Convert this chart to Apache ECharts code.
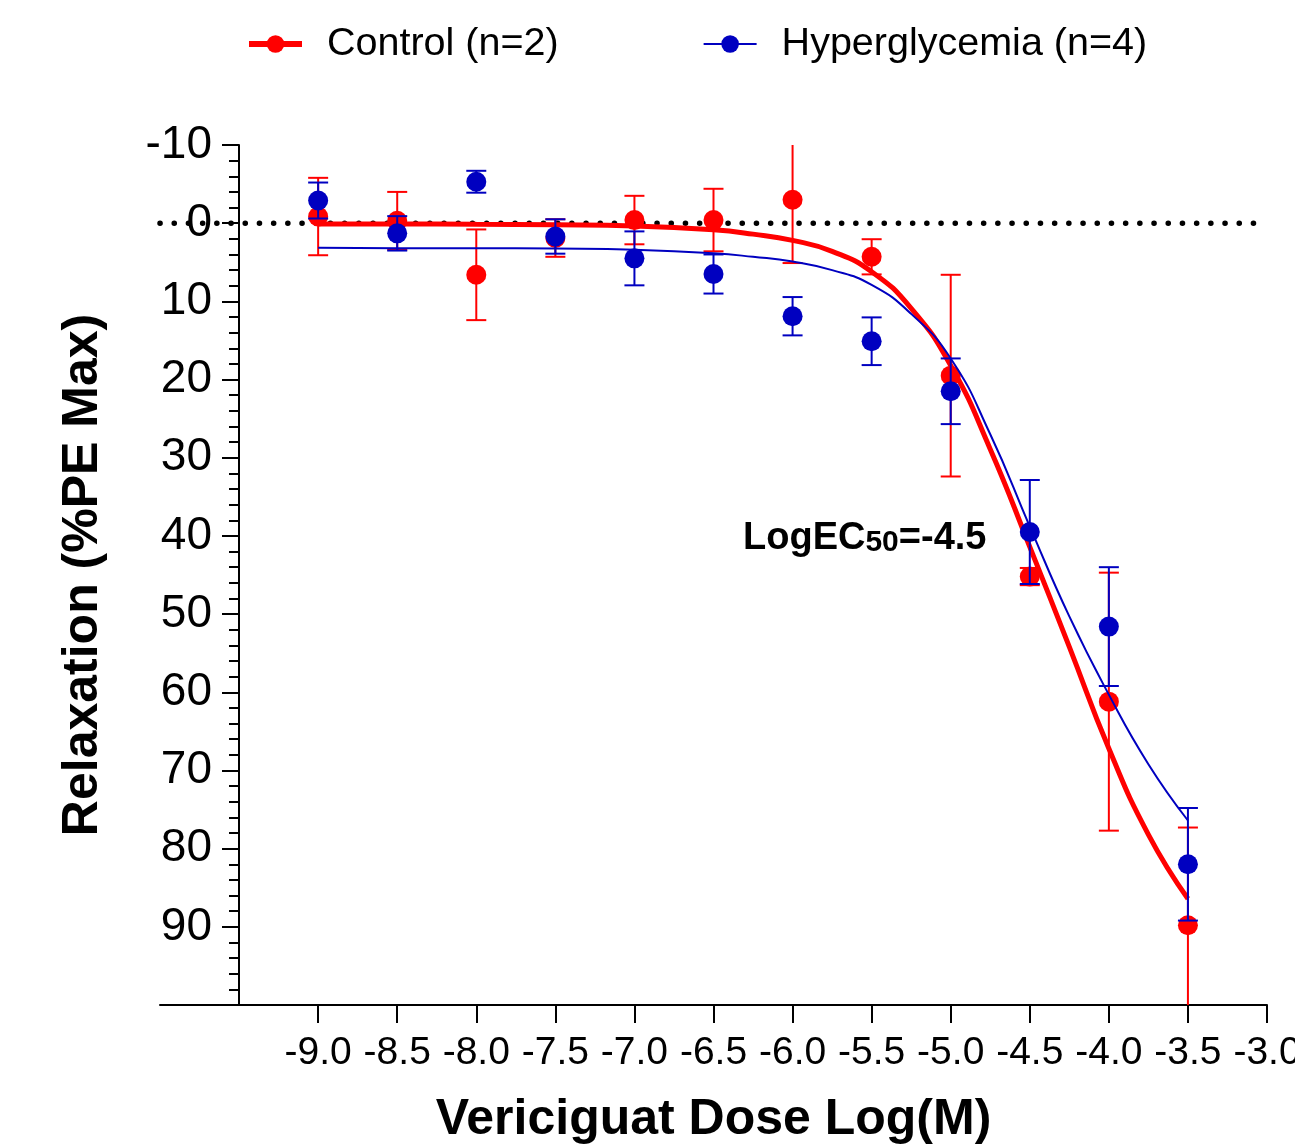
<!DOCTYPE html>
<html>
<head>
<meta charset="utf-8">
<script src="https://cdn.jsdelivr.net/npm/echarts@6/dist/echarts.min.js"></script>
<style>html,body{margin:0;padding:0;background:#fff;}#chart{width:1295px;height:1146px;}</style>
</head>
<body>
<div id="chart"></div>
<script>
// ---- Data ----
const xDose = [-9.0, -8.5, -8.0, -7.5, -7.0, -6.5, -6.0, -5.5, -5.0, -4.5, -4.0, -3.5];
const controlMean = [-0.85, -0.3, 6.6, 1.9, -0.4, -0.4, -3.0, 4.3, 19.5, 45.2, 61.2, 89.8];
const controlSem  = [4.95, 3.7, 5.8, 2.4, 3.1, 4.0, 8.1, 2.25, 12.9, 1.1, 16.5, 12.5];
const hyperMean = [-2.9, 1.3, -5.3, 1.7, 4.5, 6.5, 11.9, 15.1, 21.5, 39.5, 51.6, 82.0];
const hyperSem  = [2.3, 2.2, 1.4, 2.2, 3.45, 2.5, 2.45, 3.05, 4.2, 6.65, 7.6, 7.2];

// fitted curves
const curveX     = [-9.0, -8.5, -8.0, -7.5, -7.0, -6.5, -6.25, -6.0, -5.75, -5.5, -5.25, -5.0, -4.75, -4.5, -4.25, -4.0, -3.75, -3.5];
const controlFit = [0.1, 0.1, 0.15, 0.2, 0.35, 0.85, 1.4, 2.2, 3.6, 6.2, 10.9, 18.2, 28.9, 41.4, 54.2, 67.2, 78.2, 86.4];
const hyperFit   = [3.15, 3.2, 3.2, 3.25, 3.4, 3.85, 4.3, 4.9, 6.0, 7.9, 11.6, 17.3, 27.0, 38.8, 50.3, 60.3, 69.2, 76.4];

const xTickValues = [-9.0, -8.5, -8.0, -7.5, -7.0, -6.5, -6.0, -5.5, -5.0, -4.5, -4.0, -3.5, -3.0];
const yLabelValues = [-10, 0, 10, 20, 30, 40, 50, 60, 70, 80, 90];
const zeroRef = 0;

const names = ['Control (n=2)', 'Hyperglycemia (n=4)'];
const RED = '#FF0000', BLUE = '#0000C0';
const FONT = "'Liberation Sans', Arial, sans-serif";

const X_MIN = -10, X_MAX = -3, Y_MIN = -10, Y_MAX = 100;

function errData(means, sems) {
  return xDose.map((x, i) => [x, means[i] - sems[i], means[i] + sems[i]]);
}
function errRenderer(color) {
  return function (params, api) {
    const x = api.value(0);
    const lo = api.value(1), hi = api.value(2);
    const loC = Math.max(Y_MIN, lo), hiC = Math.min(Y_MAX, hi);
    const p1 = api.coord([x, loC]), p2 = api.coord([x, hiC]);
    const half = 10;
    const st = { stroke: color, lineWidth: 2 };
    const children = [{ type: 'line', shape: { x1: p1[0], y1: p1[1], x2: p2[0], y2: p2[1] }, style: st }];
    if (lo >= Y_MIN) children.push({ type: 'line', shape: { x1: p1[0] - half, y1: p1[1], x2: p1[0] + half, y2: p1[1] }, style: st });
    if (hi <= Y_MAX) children.push({ type: 'line', shape: { x1: p2[0] - half, y1: p2[1], x2: p2[0] + half, y2: p2[1] }, style: st });
    return { type: 'group', children: children };
  };
}

const chart = echarts.init(document.getElementById('chart'), null, { renderer: 'canvas' });
chart.setOption({
  animation: false,
  backgroundColor: '#fff',
  textStyle: { fontFamily: FONT },
  legend: {
    data: [
      { name: names[0], lineStyle: { width: 6, color: RED }, itemStyle: { color: RED } },
      { name: names[1], lineStyle: { width: 2, color: BLUE }, itemStyle: { color: BLUE } }
    ],
    left: 241, top: 19,
    itemWidth: 53, itemHeight: 22,
    itemGap: 144,
    textStyle: { fontSize: 39.5, color: '#000', fontFamily: FONT, padding: [0, 0, 0, 20] }
  },
  grid: { left: 160, right: 28, top: 145, bottom: 141, containLabel: false, outerBoundsMode: 'none' },
  xAxis: {
    type: 'value', min: X_MIN, max: X_MAX, interval: 0.5,
    name: 'Vericiguat Dose Log(M)', nameLocation: 'middle', nameGap: 90,
    nameTextStyle: { fontSize: 50, fontWeight: 'bold', color: '#000', fontFamily: FONT },
    axisLine: { onZero: false, lineStyle: { color: '#000', width: 2 } },
    axisTick: { customValues: xTickValues, length: 18, lineStyle: { color: '#000', width: 2 } },
    axisLabel: { customValues: xTickValues, margin: 29, fontSize: 39, color: '#000', fontFamily: FONT,
      showMinLabel: true, showMaxLabel: true, hideOverlap: false,
      formatter: v => v.toFixed(1) },
    splitLine: { show: false }
  },
  yAxis: {
    type: 'value', min: Y_MIN, max: Y_MAX, interval: 10, inverse: true,
    offset: -79,
    name: 'Relaxation (%PE Max)', nameLocation: 'middle', nameGap: 131,
    nameTextStyle: { fontSize: 50, fontWeight: 'bold', color: '#000', fontFamily: FONT },
    axisLine: { onZero: false, lineStyle: { color: '#000', width: 2 } },
    axisTick: { length: 17, lineStyle: { color: '#000', width: 2 } },
    minorTick: { show: true, splitNumber: 5, length: 10, lineStyle: { color: '#000', width: 2 } },
    axisLabel: { customValues: yLabelValues, margin: 27, fontSize: 46, color: '#000', fontFamily: FONT },
    splitLine: { show: false }
  },
  series: [
    {
      name: names[0], type: 'line', z: 3,
      data: curveX.map((x, i) => [x, controlFit[i]]),
      smooth: 0.5, showSymbol: false, symbol: 'circle', symbolSize: 20,
      itemStyle: { color: RED }, lineStyle: { color: RED, width: 5 }
    },
    {
      name: names[1], type: 'line', z: 6,
      data: curveX.map((x, i) => [x, hyperFit[i]]),
      smooth: 0.5, showSymbol: false, symbol: 'circle', symbolSize: 20,
      itemStyle: { color: BLUE }, lineStyle: { color: BLUE, width: 2 }
    },
    {
      name: 'zero', type: 'line', z: 2, silent: true, showSymbol: false, symbol: 'none',
      data: [[X_MIN, zeroRef], [X_MAX, zeroRef]],
      lineStyle: { color: '#000', width: 5.5, type: [0.1, 14.1], cap: 'round' }
    },
    {
      name: names[0], type: 'custom', z: 4, clip: true,
      data: errData(controlMean, controlSem),
      renderItem: errRenderer(RED), encode: { x: 0, y: [1, 2] }
    },
    {
      name: names[0], type: 'scatter', z: 5,
      data: xDose.map((x, i) => [x, controlMean[i]]),
      symbol: 'circle', symbolSize: 20, itemStyle: { color: RED, opacity: 1 }
    },
    {
      name: names[1], type: 'custom', z: 7, clip: true,
      data: errData(hyperMean, hyperSem),
      renderItem: errRenderer(BLUE), encode: { x: 0, y: [1, 2] }
    },
    {
      name: names[1], type: 'scatter', z: 8,
      data: xDose.map((x, i) => [x, hyperMean[i]]),
      symbol: 'circle', symbolSize: 20, itemStyle: { color: BLUE, opacity: 1 }
    }
  ],
  graphic: [
    {
      type: 'text', left: 743, top: 520, z: 20,
      style: {
        text: '{m|LogEC}{s|50}{m|=-4.5}',
        rich: {
          m: { fontSize: 38, fontWeight: 'bold', fill: '#000', fontFamily: FONT, verticalAlign: 'bottom', lineHeight: 44 },
          s: { fontSize: 30, fontWeight: 'bold', fill: '#000', fontFamily: FONT, verticalAlign: 'bottom', lineHeight: 24 }
        }
      }
    }
  ]
});
</script>
</body>
</html>
